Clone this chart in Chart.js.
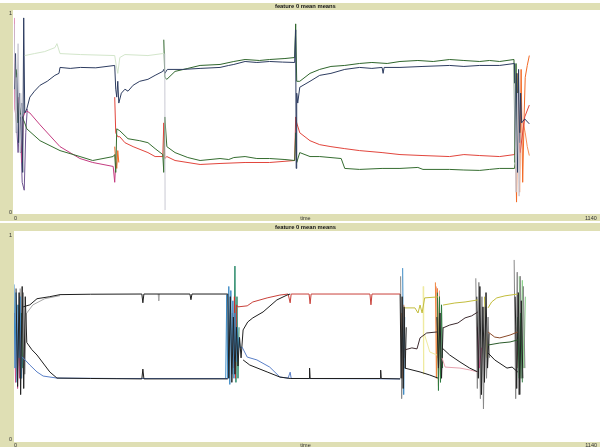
<!DOCTYPE html>
<html><head><meta charset="utf-8">
<script src="https://cdn.jsdelivr.net/npm/chart.js@4.4.1/dist/chart.umd.min.js"></script>
<style>
html,body{margin:0;padding:0;background:#fff;width:600px;height:447px;overflow:hidden}
canvas{position:absolute;left:0}
#c1{top:0}
#c2{top:223px}
</style></head><body>
<canvas id="c1" width="600" height="221"></canvas>
<canvas id="c2" width="600" height="224"></canvas>
<script>
// ---------- text / ticks ----------
const TITLE_1 = 'feature 0 mean means';
const TITLE_2 = 'feature 0 mean means';
const X_TITLE = 'time';
const X_TICKS = [0, 1140];
const Y_TICKS = [0, 1];
const X_MAX = 1140;

// ---------- panel 1 series: [time, value]; null = gap ----------
const P1_NAVY = [[1,0.62],[3,0.80],[5,0.40],[7,0.70],[9,0.35],[11,0.60],[13,0.30],[15,0.55],[17,0.20],[19,0.98],[21,0.50],[25,0.52],[31,0.58],[40,0.61],[51,0.64],[65,0.66],[80,0.69],[88,0.70],[90,0.73],[110,0.725],[130,0.73],[160,0.728],[197,0.74],[199,0.62],[201,0.58],[203,0.66],[205,0.55],[210,0.60],[217,0.62],[223,0.61],[233,0.64],[246,0.66],[262,0.67],[276,0.69],[291,0.71],[293,0.72],[295,0.70],[300,0.72],[330,0.72],[364,0.725],[403,0.73],[420,0.74],[430,0.745],[452,0.76],[475,0.755],[500,0.76],[525,0.757],[549,0.755],[551,0.92],[552,0.22],[553,0.60],[555,0.55],[559,0.63],[579,0.66],[598,0.69],[620,0.70],[647,0.72],[676,0.73],[700,0.725],[720,0.73],[722,0.70],[724,0.73],[755,0.73],[800,0.735],[852,0.74],[880,0.735],[911,0.74],[950,0.74],[979,0.75],[981,0.30],[983,0.70],[985,0.20],[987,0.72],[989,0.35],[991,0.60],[993,0.45],[999,0.47],[1008,0.445]];
const P1_PALE = [[21,0.79],[40,0.80],[60,0.81],[80,0.83],[84,0.85],[90,0.80],[130,0.795],[197,0.79],[200,0.74],[203,0.70],[207,0.78],[217,0.795],[262,0.79],[291,0.80],[293,0.80]];
const P1_GREEN_TOP = [[293,0.87],[295,0.68],[299,0.67],[315,0.71],[340,0.725],[364,0.74],[403,0.745],[430,0.76],[452,0.77],[480,0.765],[500,0.77],[530,0.775],[549,0.78],[551,0.95],[553,0.66],[559,0.66],[579,0.70],[598,0.72],[620,0.735],[647,0.74],[676,0.75],[700,0.755],[730,0.75],[755,0.76],[790,0.765],[820,0.76],[852,0.77],[880,0.765],[911,0.76],[930,0.765],[950,0.76],[978,0.77],[980,0.25],[982,0.75],[984,0.22],[986,0.70]];
const P1_GREEN_LOW = [[2,0.75],[4,0.68],[6,0.72],[8,0.45],[10,0.55],[12,0.50],[16,0.48],[21,0.45],[25,0.42],[51,0.36],[90,0.31],[129,0.28],[154,0.26],[194,0.28],[197,0.29],[199,0.20],[201,0.42],[207,0.41],[223,0.37],[246,0.36],[262,0.35],[276,0.32],[291,0.29],[293,0.20],[295,0.48],[299,0.33],[315,0.30],[340,0.275],[364,0.26],[403,0.27],[420,0.265],[430,0.275],[452,0.28],[475,0.27],[500,0.27],[530,0.265],[549,0.26],[551,0.40],[553,0.25],[559,0.30],[579,0.28],[598,0.28],[640,0.27],[647,0.22],[676,0.215],[720,0.22],[755,0.22],[790,0.225],[800,0.215],[852,0.215],[880,0.212],[911,0.21],[930,0.215],[950,0.22],[979,0.22],[985,0.35]];
const P1_RED = [[197,0.58],[199,0.40],[203,0.38],[207,0.38],[217,0.35],[233,0.33],[262,0.30],[276,0.28],[291,0.28],[293,0.45],[295,0.27],[299,0.28],[315,0.26],[364,0.24],[403,0.245],[452,0.25],[500,0.25],[549,0.26],[551,0.48],[553,0.45],[559,0.40],[579,0.36],[598,0.34],[620,0.33],[647,0.32],[676,0.31],[720,0.30],[755,0.29],[800,0.285],[852,0.28],[880,0.29],[911,0.285],[950,0.28],[979,0.29],[985,0.40],[990,0.30],[999,0.48],[1008,0.54]];
const P1_MAGENTA = [[0,0.98],[2,0.52],[5,0.45],[8,0.58],[12,0.40],[16,0.25],[18,0.48],[21,0.50],[25,0.51],[31,0.50],[51,0.44],[90,0.33],[129,0.27],[154,0.25],[194,0.23],[197,0.15],[199,0.25]];
const P1_PURPLE = [[4,0.50],[8,0.30],[12,0.48],[16,0.15],[20,0.11],[23,0.40],[26,0.52]];
const P1_ORANGE_A = [[197,0.33],[199,0.26],[201,0.22],[203,0.31],[205,0.25]];
const P1_ORANGE_B = [[979,0.60],[983,0.05],[986,0.70],[989,0.10],[992,0.72],[995,0.15],[998,0.50],[1000,0.68],[1004,0.74],[1008,0.79]];
const P1_ORANGE_C = [[996,0.45],[1000,0.40],[1004,0.33],[1008,0.285]];
const P1_GRAY = [[0,0.95],[4,0.40],[8,0.85],[12,0.30],[16,0.60],null,[295,0.80],[295.5,0.01],null,[979,0.65],[982,0.10],[985,0.60],[988,0.08],[990,0.40]];

// ---------- panel 2 series: [time, value]; null = gap ----------
const P2_BLACK_TOP = [[18,0.65],[31,0.66],[45,0.69],[70,0.70],[90,0.71],[150,0.712],[250,0.713],[252,0.67],[254,0.713],[344,0.713],[346,0.685],[348,0.713],[418,0.713]];
const P2_GRAY_TOP = [[25,0.62],[37,0.66],[60,0.69],[90,0.705],null,[282,0.713],[283,0.68],[284,0.713]];
const P2_BLACK_LOW = [[25,0.475],[35,0.44],[45,0.414],[70,0.331],[84,0.301],[150,0.299],[250,0.297],[252,0.345],[254,0.297],[418,0.297]];
const P2_BLUE_LOW = [[16,0.405],[31,0.365],[45,0.331],[57,0.311],[84,0.301],[200,0.299],[418,0.299]];
const P2_RED_TOP = [[438,0.65],[456,0.655],[467,0.674],[495,0.694],[520,0.708],[536,0.713],[540,0.67],[542,0.713],[577,0.713],[579,0.665],[581,0.713],[696,0.713],[698,0.66],[700,0.713],[755,0.713]];
const P2_BLACK_RISE = [[448,0.537],[457,0.576],[467,0.596],[487,0.625],[514,0.684],[534,0.708],[540,0.713]];
const P2_BLUE_LOW2 = [[446,0.453],[456,0.404],[475,0.39],[500,0.355],[520,0.306],[536,0.301],[540,0.33],[542,0.299],[755,0.297]];
const P2_BLACK_LOW2 = [[448,0.39],[461,0.365],[495,0.331],[520,0.306],[540,0.299],[577,0.299],[578,0.35],[579,0.299],[716,0.299],[717,0.34],[718,0.299],[755,0.297]];
const P2_OLIVE = [[764,0.645],[784,0.645],[790,0.62],[794,0.659],[798,0.62],[803,0.694],[829,0.699],null,[839,0.659],[862,0.669],[882,0.674],[907,0.684],null,[927,0.645],[934,0.674],[944,0.694],[960,0.704],[985,0.713]];
const P2_DARK = [[764,0.439],[778,0.449],[788,0.444],[794,0.498],[807,0.522],[827,0.527],null,[839,0.547],[852,0.561],[868,0.571],[882,0.596],[895,0.606],[907,0.625]];
const P2_BLACK_END = [[764,0.35],[794,0.331],[813,0.316],[829,0.301],null,[837,0.449],[852,0.414],[872,0.38],[891,0.35],[907,0.331],null,[927,0.424],[940,0.39],[964,0.35],[974,0.355],[985,0.331]];
const P2_PINK = [[837,0.40],[843,0.355],[872,0.35],[891,0.341],[907,0.331]];
const P2_BROWN = [[927,0.527],[940,0.502],[950,0.498],[970,0.512],[985,0.527]];
const P2_GREEN = [[927,0.463],[950,0.473],[970,0.478],[985,0.488]];
const P2_YELLOW = [[803,0.512],[809,0.463],[813,0.429],[827,0.414],null,[800,0.75],[801,0.32]];

// bursts (rapid swings)
const P2_BURST_BLUE = [[0,0.76],[2,0.35],[4,0.72],[6,0.28],[8,0.66],[10,0.40],[12,0.70],[14,0.30],[16,0.405],null,[414,0.30],[416,0.71],[418,0.30],[420,0.75],[422,0.27],[424,0.73],[426,0.32],[428,0.68],[430,0.30],[432,0.62],[434,0.38],[436,0.55],[438,0.40],[440,0.50],[442,0.45],[446,0.453],null,[760,0.84],[762,0.22],[764,0.60]];
const P2_BURST_PINK = [[1,0.62],[3,0.28],[5,0.65],[7,0.25],[9,0.55],[11,0.30],[13,0.60],null,[906,0.55],[910,0.35],[914,0.45]];
const P2_BURST_BLACK = [[4,0.74],[7,0.26],[10,0.72],[13,0.22],[16,0.75],[19,0.25],[22,0.70],[25,0.475],null,[418,0.713],[420,0.30],[423,0.70],[426,0.28],[429,0.60],[432,0.32],[435,0.55],[438,0.36],[441,0.50],[444,0.40],[448,0.537],null,[755,0.713],[757,0.30],[759,0.70],[761,0.25],[763,0.65],[765,0.35],[767,0.55],null,[827,0.60],[830,0.35],[833,0.62],[836,0.30],[839,0.55],null,[905,0.70],[908,0.30],[911,0.75],[914,0.22],[917,0.65],[920,0.28],[923,0.72],[926,0.35],[929,0.52],null,[980,0.70],[983,0.25],[986,0.72],[989,0.22],[992,0.68],[995,0.30]];
const P2_BURST_GREEN = [[8,0.66],[11,0.36],[14,0.62],[17,0.35],null,[828,0.72],[830,0.24],[832,0.70],[834,0.28],[836,0.66],[838,0.35],null,[985,0.60],[988,0.30],[991,0.62],[994,0.28]];
const P2_BURST_GRAY = [[12,0.74],[15,0.30],[18,0.72],[21,0.32],[24,0.62],null,[756,0.80],[758,0.20],[760,0.50],null,[903,0.79],[906,0.25],[909,0.77],[912,0.20],[915,0.70],[918,0.15],[921,0.65],[924,0.30],[927,0.60],[930,0.40],null,[978,0.88],[981,0.20],[984,0.82],[987,0.22],[990,0.80],[993,0.30],[996,0.75],[999,0.35]];
const P2_BURST_RED = [[427,0.62],[429,0.35],[431,0.70],[433,0.30],[435,0.66],[438,0.65]];
const P2_BURST_TEAL = [[430,0.40],[432,0.85],[434,0.28],[436,0.70],[438,0.30],[440,0.55]];
const P2_BURST_ORANGE = [[758,0.62],[760,0.30],[762,0.66],[764,0.40],null,[824,0.77],[826,0.30],[828,0.74],[830,0.26],[832,0.65]];
const P2_BURST_SALMON = [[826,0.75],[829,0.40],[832,0.73]];
const P2_BURST_LIGHTGREEN = [[988,0.80],[991,0.30],[994,0.78],[997,0.35],[1000,0.70]];
const P2_BURST_BROWN = [[982,0.55],[986,0.35],[990,0.58]];
const P2_BURST_OLIVE = [[920,0.70],[924,0.40]];

// ---------- drawing ----------
const BEIGE = '#dfdfb4';
const FONT = "'Liberation Sans','DejaVu Sans',sans-serif";

function line(points, color, w) {
  const data = [];
  points.forEach((p, i) => {
    if (p === null) {
      const prev = points[i - 1];
      data.push({x: prev[0] + 0.01, y: null});
    } else {
      data.push({x: p[0], y: p[1]});
    }
  });
  return {data, borderColor: color, borderWidth: w || 1, pointRadius: 0, fill: false, tension: 0, spanGaps: false};
}

const bgPlugin = {
  id: 'panelBg',
  beforeDraw(chart, args, o) {
    const {ctx, width, height} = chart;
    ctx.save();
    ctx.fillStyle = '#fff'; ctx.fillRect(0, 0, width, height);
    ctx.fillStyle = BEIGE; ctx.fillRect(0, o.top, width, height - o.top);
    ctx.fillStyle = '#fff'; ctx.fillRect(o.left, o.wTop, width - o.left, o.wBottom - o.wTop);
    ctx.restore();
  }
};

function makeChart(id, title, datasets, cfg) {
  return new Chart(document.getElementById(id), {
    type: 'line',
    data: {datasets},
    plugins: [bgPlugin],
    options: {
      responsive: false, animation: false, events: [],
      layout: {padding: {left: 0, right: 3, top: 0, bottom: 0}},
      plugins: {
        legend: {display: false}, tooltip: {enabled: false},
        panelBg: cfg.bg,
        title: {display: true, text: title, fullSize: false, color: '#111',
          font: {family: FONT, size: 5.8, weight: 'bold', lineHeight: 1.2},
          padding: cfg.titlePad}
      },
      scales: {
        x: {type: 'linear', min: 0, max: X_MAX,
          afterBuildTicks: s => { s.ticks = X_TICKS.map(v => ({value: v})); },
          afterFit: s => { s.height = cfg.xh; },
          grid: {display: false, drawTicks: false}, border: {display: false},
          ticks: {font: {family: FONT, size: 5.5}, color: '#333', padding: cfg.xtp, align: 'inner', maxRotation: 0, autoSkip: false,
            callback: v => String(v)},
          title: {display: true, text: X_TITLE, color: '#333', font: {family: FONT, size: 5.5}, padding: {top: 0, bottom: cfg.xtb}}
        },
        y: {min: 0, max: 1,
          afterBuildTicks: s => { s.ticks = Y_TICKS.map(v => ({value: v})); },
          afterFit: s => { s.width = 14; },
          grid: {display: false, drawTicks: false}, border: {display: false},
          ticks: {font: {family: FONT, size: 5.5}, color: '#333', padding: 2, callback: v => String(v)}
        }
      }
    }
  });
}

makeChart('c1', TITLE_1, [
  line(P1_PALE, '#d3e6cb'),
  line(P1_GRAY, '#c9c9d3'),
  line(P1_NAVY, '#2d3c60'),
  line(P1_GREEN_TOP, '#2f662c'),
  line(P1_GREEN_LOW, '#356d30'),
  line(P1_RED, '#e2453c'),
  line(P1_MAGENTA, '#c43c80'),
  line(P1_PURPLE, '#6f5590'),
  line(P1_ORANGE_A, '#f26a26'),
  line(P1_ORANGE_B, '#f26a26'),
  line(P1_ORANGE_C, '#f6915a')
], {bg: {top: 3, left: 13, wTop: 10, wBottom: 214}, titlePad: {top: 2.5, bottom: 4.5}, xh: 9, xtp: 3.2, xtb: -0.8});

makeChart('c2', TITLE_2, [
  line(P2_BLACK_TOP, '#1e1e1e'),
  line(P2_BLACK_LOW, '#1e1e1e'),
  line(P2_BLACK_RISE, '#1e1e1e'),
  line(P2_BLACK_LOW2, '#1e1e1e'),
  line(P2_RED_TOP, '#c9413a'),
  line(P2_BLUE_LOW, '#5a80c8'),
  line(P2_BLUE_LOW2, '#5a80c8'),
  line(P2_GRAY_TOP, '#a8a8a8'),
  line(P2_OLIVE, '#c3bd3c'),
  line(P2_DARK, '#3e2c30'),
  line(P2_BLACK_END, '#1e1e1e'),
  line(P2_PINK, '#e6a2ae'),
  line(P2_BROWN, '#8a4a2a'),
  line(P2_GREEN, '#2a5a2a'),
  line(P2_YELLOW, '#efeaa0'),
  line(P2_BURST_BLACK, '#222'),
  line(P2_BURST_BLUE, '#3d8ac4'),
  line(P2_BURST_PINK, '#c8508a'),
  line(P2_BURST_GREEN, '#2e7a40'),
  line(P2_BURST_GRAY, '#888'),
  line(P2_BURST_RED, '#cc3030'),
  line(P2_BURST_TEAL, '#2a8a6a'),
  line(P2_BURST_ORANGE, '#f0843c'),
  line(P2_BURST_SALMON, '#f0a090'),
  line(P2_BURST_LIGHTGREEN, '#8ad08a'),
  line(P2_BURST_BROWN, '#6a3a20'),
  line(P2_BURST_OLIVE, '#c3bd3c')
], {bg: {top: 0, left: 14, wTop: 8, wBottom: 219}, titlePad: {top: 0.5, bottom: 5}, xh: 7.5, xtp: 2.7, xtb: -1.8});
</script>
</body></html>
